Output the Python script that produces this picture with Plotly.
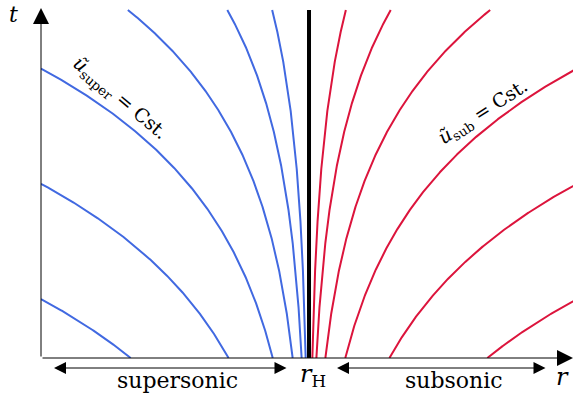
import numpy as np
import plotly.graph_objects as go

# Horizon radius and the constants labelling each characteristic curve
r_H = 1.0
u_super = [0.22, 0.65, 1.08, 1.51, 1.94, 2.37]   # curves with r < r_H
u_sub = [0.22, 0.65, 1.08, 1.51, 1.94, 2.37]     # curves with r > r_H
k = 0.54            # slope of the logarithmic (tortoise-like) term
t_top = 1.2985      # where the curves and the horizon stop
r_max = 1.985
t_max = 1.3358

BLUE = "royalblue"
RED = "crimson"
FONT = "DejaVu Serif"


def curve(u, side):
    """t = u + k*ln|r - r_H|, sampled in s = ln|r - r_H| from t = 0 up to t_top."""
    s_lo = -u / k
    if side < 0:
        s_hi = min((t_top - u) / k, np.log(r_H))
    else:
        s_hi = min((t_top - u) / k, np.log(r_max - r_H + 0.05))
    s = np.linspace(s_lo, s_hi, 400)
    r = r_H + side * np.exp(s)
    t = u + k * s
    return r, t


fig = go.Figure()
for u in u_super:
    r, t = curve(u, -1)
    fig.add_trace(go.Scatter(x=r, y=t, mode="lines",
                             line=dict(color=BLUE, width=2), hoverinfo="skip"))
for u in u_sub:
    r, t = curve(u, +1)
    fig.add_trace(go.Scatter(x=r, y=t, mode="lines",
                             line=dict(color=RED, width=2), hoverinfo="skip"))

# the horizon
fig.add_trace(go.Scatter(x=[r_H, r_H], y=[0, t_top], mode="lines",
                         line=dict(color="black", width=4), hoverinfo="skip"))

W, H = 573, 398
L, B = 41, 40


def px(xp):
    return (xp - L) / (W - L)


def py(yp):
    return (H - B - yp) / (H - B)


ann = []
# axes with arrowheads
ann.append(dict(x=0, y=1.306, ax=0, ay=0, xref="x", yref="y", axref="x", ayref="y",
                showarrow=True, arrowhead=2, arrowsize=3.2, arrowwidth=1,
                arrowcolor="black", text=""))
ann.append(dict(x=1.9849, y=0, ax=0, ay=0, xref="x", yref="y", axref="x", ayref="y",
                showarrow=True, arrowhead=2, arrowsize=3.2, arrowwidth=1,
                arrowcolor="black", text=""))


def double_arrow(x0, x1, yp):
    ann.append(dict(x=px(x0), y=py(yp), ax=x1 - x0, ay=0, xref="paper", yref="paper",
                    showarrow=True, arrowhead=2, arrowside="end+start",
                    arrowsize=2.4, arrowwidth=1, arrowcolor="black", text=""))


double_arrow(54, 288, 368)
double_arrow(337, 547, 368)


def label(text, xp, yp, size, angle=0):
    ann.append(dict(x=px(xp), y=py(yp), xref="paper", yref="paper", text=text,
                    showarrow=False, textangle=angle, xanchor="center", yanchor="middle",
                    font=dict(family=FONT, size=size, color="black")))


label("supersonic", 177, 381, 22)
label("subsonic", 454, 381, 22)
label("<i>r</i><sub>H</sub>", 313, 375, 24)
label("<i>r</i>", 562, 377, 24)
label("<i>t</i>", 13, 14, 22)
label("<i>ũ</i><sub>super</sub> = Cst.", 120, 98, 19, 40)
label("<i>ũ</i><sub>sub</sub> = Cst.", 483, 112, 19, -33)

fig.update_layout(
    width=W, height=H,
    margin=dict(l=L, r=0, t=0, b=B, pad=0),
    paper_bgcolor="white", plot_bgcolor="white",
    showlegend=False,
    font=dict(family=FONT),
    annotations=ann,
    xaxis=dict(range=[0, r_max], visible=False, fixedrange=True),
    yaxis=dict(range=[0, t_max], visible=False, fixedrange=True),
)

fig.write_html("out.html")
